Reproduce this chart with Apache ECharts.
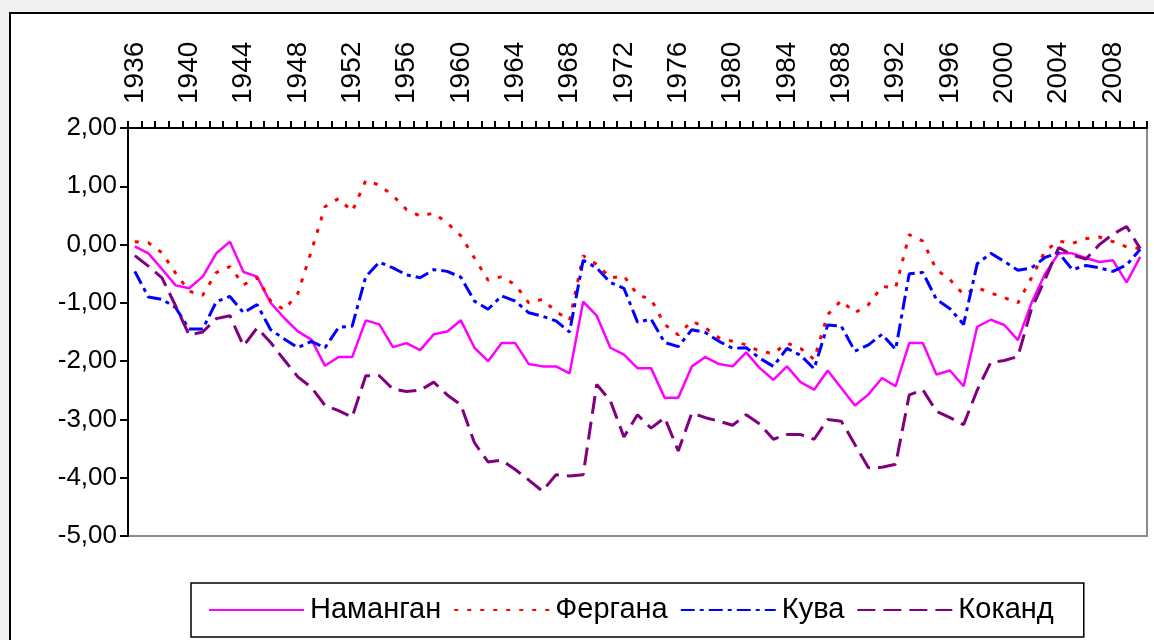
<!DOCTYPE html>
<html>
<head>
<meta charset="utf-8">
<script src="https://cdn.jsdelivr.net/npm/echarts@6/dist/echarts.min.js"></script>
<style>
html,body{margin:0;padding:0;background:#f0f0f0;}
#chart{width:1154px;height:640px;}
</style>
</head>
<body>
<div id="chart"></div>
<script>
const years = ['1936','1937','1938','1939','1940','1941','1942','1943','1944','1945',
'1946','1947','1948','1949','1950','1951','1952','1953','1954','1955',
'1956','1957','1958','1959','1960','1961','1962','1963','1964','1965',
'1966','1967','1968','1969','1970','1971','1972','1973','1974','1975',
'1976','1977','1978','1979','1980','1981','1982','1983','1984','1985',
'1986','1987','1988','1989','1990','1991','1992','1993','1994','1995',
'1996','1997','1998','1999','2000','2001','2002','2003','2004','2005',
'2006','2007','2008','2009','2010'];

const namangan = [-0.03,-0.15,-0.42,-0.70,-0.75,-0.55,-0.15,0.05,-0.47,-0.55,
-1.00,-1.26,-1.49,-1.63,-2.08,-1.93,-1.93,-1.30,-1.37,-1.76,
-1.69,-1.81,-1.54,-1.49,-1.30,-1.77,-2.00,-1.69,-1.69,-2.05,
-2.09,-2.09,-2.21,-0.98,-1.22,-1.77,-1.89,-2.12,-2.12,-2.63,
-2.63,-2.09,-1.93,-2.05,-2.09,-1.85,-2.12,-2.32,-2.09,-2.36,
-2.49,-2.16,-2.46,-2.76,-2.57,-2.29,-2.43,-1.69,-1.69,-2.23,
-2.16,-2.43,-1.41,-1.29,-1.38,-1.64,-1.00,-0.50,-0.15,-0.15,
-0.23,-0.30,-0.27,-0.65,-0.21];

const fergana = [0.05,0.03,-0.14,-0.49,-0.80,-0.87,-0.48,-0.38,-0.69,-0.57,
-0.97,-1.12,-0.84,-0.11,0.65,0.79,0.57,1.10,1.02,0.84,
0.60,0.49,0.54,0.37,0.15,-0.23,-0.61,-0.55,-0.69,-1.00,
-0.94,-1.15,-1.30,-0.19,-0.34,-0.57,-0.54,-0.86,-0.94,-1.37,
-1.55,-1.31,-1.43,-1.60,-1.66,-1.72,-1.83,-1.87,-1.69,-1.78,
-1.97,-1.20,-0.96,-1.17,-1.03,-0.72,-0.74,0.17,0.06,-0.43,
-0.60,-0.86,-0.74,-0.83,-0.91,-1.00,-0.57,-0.11,0.06,0.02,
0.10,0.13,0.05,-0.04,-0.07];

const kuva = [-0.46,-0.90,-0.94,-1.08,-1.45,-1.45,-0.98,-0.89,-1.17,-1.03,
-1.46,-1.62,-1.77,-1.66,-1.77,-1.42,-1.40,-0.55,-0.30,-0.40,
-0.52,-0.57,-0.43,-0.46,-0.56,-0.97,-1.11,-0.88,-0.97,-1.17,
-1.23,-1.31,-1.50,-0.27,-0.40,-0.65,-0.75,-1.33,-1.28,-1.68,
-1.75,-1.46,-1.51,-1.66,-1.78,-1.77,-1.95,-2.09,-1.78,-1.90,
-2.13,-1.38,-1.40,-1.83,-1.72,-1.54,-1.80,-0.50,-0.48,-0.94,
-1.10,-1.37,-0.33,-0.15,-0.29,-0.44,-0.40,-0.22,-0.14,-0.43,
-0.36,-0.40,-0.46,-0.35,-0.08];

const kokand = [-0.19,-0.37,-0.57,-1.05,-1.55,-1.50,-1.27,-1.22,-1.74,-1.43,
-1.68,-1.98,-2.27,-2.45,-2.76,-2.85,-2.96,-2.25,-2.25,-2.48,
-2.52,-2.50,-2.36,-2.58,-2.75,-3.40,-3.73,-3.70,-3.86,-4.04,
-4.23,-3.95,-3.97,-3.95,-2.40,-2.68,-3.30,-2.92,-3.15,-2.97,
-3.54,-2.89,-2.97,-3.03,-3.10,-2.92,-3.08,-3.34,-3.26,-3.26,
-3.34,-3.00,-3.03,-3.43,-3.83,-3.82,-3.77,-2.58,-2.49,-2.86,
-2.97,-3.09,-2.50,-2.02,-1.99,-1.92,-1.10,-0.60,-0.05,-0.18,
-0.25,0.00,0.18,0.31,-0.07];

const seriesNames = ['Наманган','Фергана','Кува','Коканд'];

const FONT = '"Liberation Sans", Arial, sans-serif';
const chart = echarts.init(document.getElementById('chart'), null, {renderer:'canvas'});

chart.setOption({
  animation: false,
  backgroundColor: 'transparent',
  graphic: [{
    type: 'rect', z: -10, silent: true,
    shape: {x: 10, y: 13, width: 1300, height: 800},
    style: {fill: '#ffffff', stroke: '#000000', lineWidth: 2}
  }],
  grid: {
    left: 128, top: 128, right: 7, bottom: 104,
    show: true, borderColor: '#8c8c8c', borderWidth: 2, backgroundColor: 'transparent'
  },
  legend: {
    left: 191, top: 583,
    padding: [11, 30, 11, 17],
    borderColor: '#000', borderWidth: 1.5,
    itemWidth: 95, itemHeight: 14, itemGap: 12,
    itemStyle: {opacity: 0},
    textStyle: {fontSize: 29, fontFamily: FONT, color: '#000', lineHeight: 32, padding: [0,0,0,1]},
    data: seriesNames
  },
  xAxis: {
    type: 'category', position: 'top', data: years, boundaryGap: true,
    axisLine: {show: true, onZero: false, lineStyle: {color: '#000', width: 2}},
    axisTick: {show: true, interval: 0, inside: false, length: 7, lineStyle: {color: '#000', width: 2}},
    axisLabel: {interval: 3, rotate: -90, margin: 24, fontSize: 28, fontFamily: FONT, color: '#000'},
    splitLine: {show: false}
  },
  yAxis: {
    type: 'value', min: -5, max: 2, interval: 1,
    axisLine: {show: true, lineStyle: {color: '#000', width: 2}},
    axisTick: {show: true, inside: false, length: 8, lineStyle: {color: '#000', width: 2}},
    axisLabel: {margin: 11, fontSize: 26, fontFamily: FONT, color: '#000',
      formatter: v => v.toFixed(2).replace('.', ',')},
    splitLine: {show: false}
  },
  series: [
    {name: seriesNames[0], type: 'line', data: namangan, symbol: 'none',
     lineStyle: {color: '#ff00ff', width: 2.5, type: 'solid'}, itemStyle: {color: '#ff00ff'}},
    {name: seriesNames[1], type: 'line', data: fergana, symbol: 'none',
     lineStyle: {color: '#ff0000', width: 3, type: [4, 9]}, itemStyle: {color: '#ff0000'}},
    {name: seriesNames[2], type: 'line', data: kuva, symbol: 'none',
     lineStyle: {color: '#0000ff', width: 3, type: [14, 5, 4, 5]}, itemStyle: {color: '#0000ff'}},
    {name: seriesNames[3], type: 'line', data: kokand, symbol: 'none',
     lineStyle: {color: '#800080', width: 3, type: [18, 8]}, itemStyle: {color: '#800080'}}
  ]
});
</script>
</body>
</html>
